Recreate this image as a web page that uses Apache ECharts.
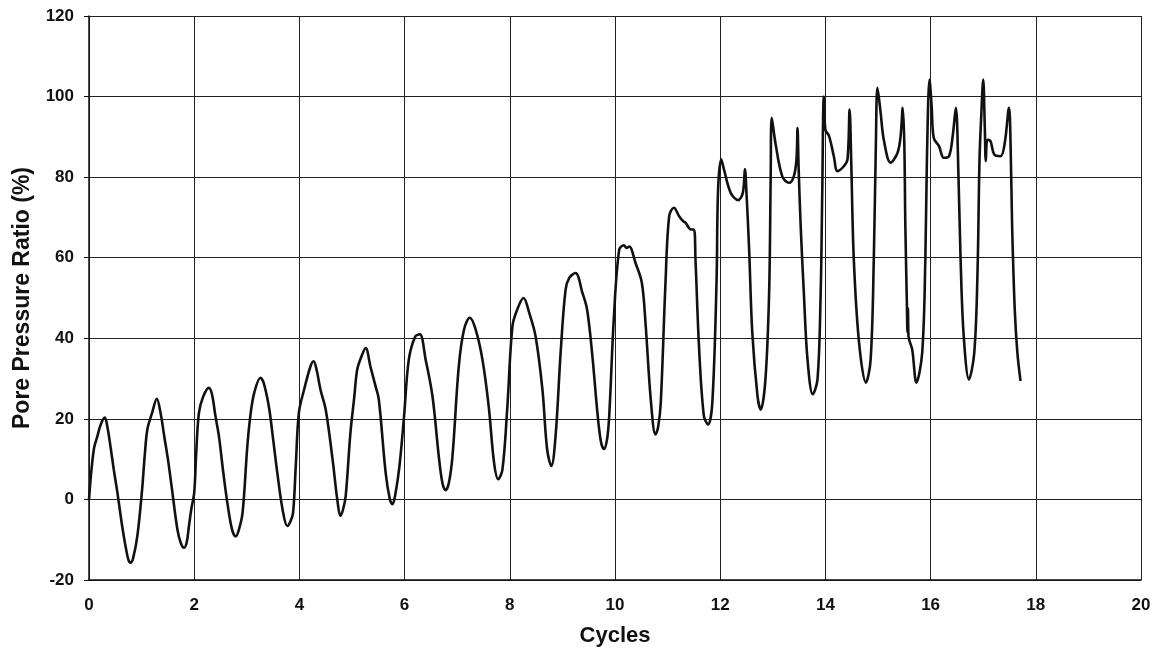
<!DOCTYPE html>
<html>
<head>
<meta charset="utf-8">
<title>Pore Pressure Ratio vs Cycles</title>
<script src="https://cdn.jsdelivr.net/npm/echarts@6/dist/echarts.min.js"></script>
<style>
  html, body { margin: 0; padding: 0; background: #ffffff; }
  #chart { width: 1168px; height: 658px; }
</style>
</head>
<body>
<div id="chart"></div>
<script>
// Number of loading cycles
const cycles = [
  0, 0.03, 0.06, 0.10, 0.16, 0.22, 0.30, 0.35, 0.41, 0.47, 0.54, 0.63, 0.70, 0.75, 0.79, 0.84, 0.92,
  1.01, 1.06, 1.11, 1.20, 1.29, 1.36, 1.43, 1.50, 1.57, 1.68, 1.75, 1.81, 1.86, 1.90, 1.95,
  2.00, 2.04, 2.09, 2.17, 2.28, 2.34, 2.40, 2.47, 2.55, 2.63, 2.72, 2.79, 2.85, 2.92,
  3.01, 3.07, 3.14, 3.26, 3.32, 3.42, 3.50, 3.58, 3.68, 3.77, 3.83, 3.88, 3.93, 3.99,
  4.09, 4.21, 4.27, 4.33, 4.40, 4.50, 4.63, 4.72, 4.78, 4.83, 4.88, 4.97,
  5.04, 5.10, 5.18, 5.26, 5.35, 5.45, 5.51, 5.64, 5.72, 5.77, 5.82, 5.90, 5.99,
  6.08, 6.20, 6.29, 6.40, 6.53, 6.65, 6.72, 6.78, 6.84, 6.91,
  7.03, 7.13, 7.24, 7.35, 7.48, 7.60, 7.70, 7.78, 7.86, 7.95,
  8.05, 8.14, 8.26, 8.37, 8.49, 8.62, 8.71, 8.79, 8.87, 8.97,
  9.06, 9.13, 9.25, 9.38, 9.47, 9.57, 9.66, 9.73, 9.79, 9.85, 9.89, 9.98,
  10.08, 10.17, 10.22, 10.27, 10.39, 10.51, 10.58, 10.68, 10.77, 10.82, 10.87, 10.96,
  11.03, 11.12, 11.22, 11.30, 11.34, 11.40, 11.44, 11.50, 11.53, 11.60, 11.69, 11.77, 11.85, 11.93, 11.96,
  12.02, 12.07, 12.20, 12.34, 12.43, 12.47, 12.50, 12.55, 12.61, 12.71, 12.77, 12.86, 12.93, 12.96, 12.98,
  13.05, 13.18, 13.31, 13.40, 13.45, 13.47, 13.49, 13.53, 13.59, 13.66, 13.76, 13.85, 13.91, 13.94, 13.97,
  14.00, 14.07, 14.16, 14.23, 14.35, 14.42, 14.46, 14.49, 14.54, 14.64, 14.77, 14.86, 14.92, 14.96, 14.99,
  15.05, 15.11, 15.24, 15.37, 15.43, 15.47, 15.50, 15.52, 15.55, 15.56, 15.57, 15.58, 15.65, 15.73, 15.84, 15.90, 15.93, 15.98,
  16.02, 16.06, 16.16, 16.25, 16.35, 16.42, 16.48, 16.53, 16.57, 16.63, 16.73, 16.83, 16.89, 16.93, 16.96,
  17.00, 17.03, 17.05, 17.08, 17.14, 17.21, 17.33, 17.41, 17.49, 17.52, 17.55, 17.60, 17.65, 17.71
];

// Pore pressure ratio (%) at each cycle value above
const porePressureRatio = [
  0, 5, 9, 13, 15.7, 18.5, 20.3, 18, 13, 7.5, 1.7, -6.6, -12, -15, -15.7, -14.5, -9,
  2.5, 11, 17.4, 21.5, 25, 21.5, 15.7, 10, 3.3, -7.4, -11, -12, -10.5, -6.6, -2,
  1.6, 12, 21.5, 25.5, 27.7, 26, 21, 15.7, 7, -0.8, -7.5, -9.2, -7.5, -3.3,
  13.2, 21, 26.4, 30.2, 29, 23, 15, 6.6, -2.5, -6.6, -5.5, -3.3, 8, 21.5,
  27.3, 33, 34.3, 32, 27.3, 22.3, 10, 0, -4.1, -2.5, 0.8, 16.5,
  25, 32.3, 35.5, 37.6, 33, 28, 24.8, 6.6, 0, -1.2, 1, 8, 20.7,
  34.7, 40.4, 41, 34.7, 25.6, 10.7, 4, 2.3, 4, 10.7,
  33, 42.2, 45.1, 42.2, 34.7, 23, 9.2, 5, 7.4, 22.3,
  43, 47.1, 50, 46.3, 40.5, 27.3, 12.4, 8.3, 15.7, 37.2,
  52, 55, 56.2, 51.3, 47.1, 35.6, 22.3, 14.5, 12.5, 15, 20.7, 45.5,
  62, 63.1, 62.4, 62.8, 58.7, 53.8, 43.8, 24.8, 16.1, 18, 24, 53.8,
  70.3, 72.4, 70.3, 69, 68.7, 67.5, 67, 67, 59.6, 37.2, 20.7, 18.6, 24, 53.8, 77,
  84.4, 82, 76.1, 74.3, 76.1, 82, 76, 62, 41.4, 25.6, 22.3, 29.8, 51.3, 80.2, 94.7,
  88.5, 80.2, 78.6, 80.2, 84.4, 92.2, 82.7, 67.8, 51.3, 34.7, 26.1, 29.8, 51.3, 76.1, 100,
  91.8, 90.2, 85.2, 81.5, 82.7, 84.4, 96.8, 84.4, 59.6, 38.9, 29, 34.7, 59.6, 88.5, 102.2,
  96, 89.3, 83.6, 86, 90.2, 97.2, 88.5, 67.8, 48, 41.5, 47.5, 40.5, 37.2, 29, 36.4, 59.6, 84.4, 104.2,
  97.6, 89.7, 87.7, 84.8, 85.2, 90.2, 97.2, 80.2, 59.6, 40.5, 29.8, 36.4, 55.4, 84.4, 94.3,
  104.2, 92.6, 84, 89.3, 88.9, 85.6, 85.2, 88.5, 97.2, 88.5, 67.8, 47.1, 36.4, 29.4
];

const xTitle = 'Cycles';
const yTitle = 'Pore Pressure Ratio (%)';

const seriesData = cycles.map((c, i) => [c, porePressureRatio[i]]);

const font = '"Liberation Sans", Arial, sans-serif';
const ink = '#111111';
const gridInk = '#222222';

const chart = echarts.init(document.getElementById('chart'), null, { renderer: 'canvas' });

chart.setOption({
  animation: false,
  backgroundColor: '#ffffff',
  grid: { left: 89, right: 27, top: 16, bottom: 78, containLabel: false },
  xAxis: {
    type: 'value',
    min: 0,
    max: 20,
    interval: 2,
    name: xTitle,
    nameLocation: 'middle',
    nameGap: 45,
    nameTextStyle: { fontFamily: font, fontWeight: 'bold', fontSize: 22, color: ink },
    axisLine: { show: true, onZero: false, lineStyle: { color: ink, width: 1.5 } },
    axisTick: { show: false },
    axisLabel: { fontFamily: font, fontWeight: 'bold', fontSize: 17, color: ink, margin: 17 },
    splitLine: { show: true, showMinLine: true, showMaxLine: true, lineStyle: { color: gridInk, width: 1 } }
  },
  yAxis: {
    type: 'value',
    min: -20,
    max: 120,
    interval: 20,
    name: yTitle,
    nameLocation: 'middle',
    nameGap: 55,
    nameTextStyle: { fontFamily: font, fontWeight: 'bold', fontSize: 23, color: ink },
    axisLine: { show: true, onZero: false, lineStyle: { color: ink, width: 1.5 } },
    axisTick: { show: true, inside: false, length: 5, lineStyle: { color: ink, width: 1 } },
    axisLabel: { fontFamily: font, fontWeight: 'bold', fontSize: 17, color: ink, margin: 15 },
    splitLine: { show: true, showMinLine: true, showMaxLine: true, lineStyle: { color: gridInk, width: 1 } }
  },
  series: [{
    type: 'line',
    data: seriesData,
    showSymbol: false,
    smooth: 0.35,
    lineStyle: { color: ink, width: 2.6 },
    z: 5
  }]
});
</script>
</body>
</html>
